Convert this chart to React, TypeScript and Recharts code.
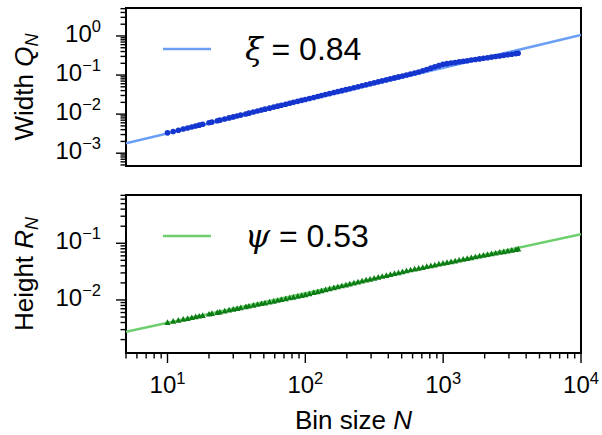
import React from "react";
import { ComposedChart, Line, XAxis, YAxis, ReferenceArea } from "recharts";

// bin sizes N (same for both panels)
const binSizes = [
  10, 11, 12, 13, 14, 15, 16, 17, 18, 20,
  21, 23, 24, 26, 28, 30, 32, 34, 37, 39,
  42, 45, 48, 51, 55, 59, 63, 67, 72, 77,
  82, 88, 94, 100, 107, 115, 123, 131, 140, 150,
  161, 172, 184, 197, 210, 225, 241, 258, 276, 295,
  316, 338, 361, 387, 414, 443, 474, 507, 542, 580,
  621, 664, 711, 760, 814, 870, 931, 997, 1066, 1141,
  1221, 1306, 1398, 1495, 1600, 1712, 1832, 1960, 2097, 2244,
  2401, 2569, 2749, 2941, 3147, 3367, 3500,
];

const widthQ = [
  3.32e-3, 3.6e-3, 3.88e-3, 4.15e-3, 4.42e-3, 4.69e-3, 4.96e-3, 5.22e-3, 5.48e-3, 6.0e-3,
  6.25e-3, 6.76e-3, 7.01e-3, 7.51e-3, 7.99e-3, 8.48e-3, 8.96e-3, 9.43e-3, 1.01e-2, 1.06e-2,
  1.13e-2, 1.2e-2, 1.27e-2, 1.34e-2, 1.42e-2, 1.51e-2, 1.6e-2, 1.68e-2, 1.79e-2, 1.9e-2,
  2.0e-2, 2.12e-2, 2.25e-2, 2.37e-2, 2.51e-2, 2.67e-2, 2.83e-2, 2.99e-2, 3.16e-2, 3.35e-2,
  3.56e-2, 3.77e-2, 3.99e-2, 4.23e-2, 4.47e-2, 4.74e-2, 5.02e-2, 5.33e-2, 5.64e-2, 5.98e-2,
  6.34e-2, 6.71e-2, 7.1e-2, 7.54e-2, 7.98e-2, 8.45e-2, 8.96e-2, 9.49e-2, 0.1, 0.106,
  0.113, 0.12, 0.129, 0.139, 0.15, 0.162, 0.174, 0.188, 0.196, 0.203,
  0.21, 0.218, 0.225, 0.233, 0.242, 0.251, 0.259, 0.268, 0.278, 0.288,
  0.298, 0.308, 0.319, 0.33, 0.342, 0.354, 0.361,
];

const heightR = [
  3.98e-3, 4.17e-3, 4.35e-3, 4.53e-3, 4.69e-3, 4.85e-3, 5.01e-3, 5.15e-3, 5.3e-3, 5.58e-3,
  5.71e-3, 5.98e-3, 6.1e-3, 6.34e-3, 6.58e-3, 6.81e-3, 7.02e-3, 7.23e-3, 7.53e-3, 7.73e-3,
  8.02e-3, 8.3e-3, 8.55e-3, 8.81e-3, 9.14e-3, 9.46e-3, 9.77e-3, 1.01e-2, 1.04e-2, 1.08e-2,
  1.11e-2, 1.15e-2, 1.19e-2, 1.23e-2, 1.28e-2, 1.34e-2, 1.39e-2, 1.44e-2, 1.5e-2, 1.56e-2,
  1.63e-2, 1.69e-2, 1.76e-2, 1.83e-2, 1.9e-2, 1.98e-2, 2.06e-2, 2.14e-2, 2.23e-2, 2.31e-2,
  2.4e-2, 2.49e-2, 2.59e-2, 2.69e-2, 2.79e-2, 2.9e-2, 3.01e-2, 3.13e-2, 3.25e-2, 3.37e-2,
  3.49e-2, 3.61e-2, 3.72e-2, 3.85e-2, 3.98e-2, 4.11e-2, 4.26e-2, 4.4e-2, 4.54e-2, 4.69e-2,
  4.85e-2, 5.01e-2, 5.18e-2, 5.35e-2, 5.52e-2, 5.71e-2, 5.9e-2, 6.08e-2, 6.28e-2, 6.46e-2,
  6.65e-2, 6.87e-2, 7.06e-2, 7.28e-2, 7.5e-2, 7.73e-2, 7.87e-2,
];

// power-law fits, drawn across the whole x range
const fitN = [5, 10000];
const fitWidth = [1.79e-3, 1.06];
const fitHeight = [2.76e-3, 0.144];

const xDomain = [5, 10000];
const widthDomain = [4.7e-4, 5.2];
const heightDomain = [1.16e-3, 0.71];

const FONT = "'Liberation Sans', Arial, Helvetica, sans-serif";
const SERIF = "'DejaVu Serif', 'Liberation Serif', serif";

const widthData = binSizes.map((n, i) => ({ n, q: widthQ[i] }));
const heightData = binSizes.map((n, i) => ({ n, q: heightR[i] }));
const widthFitData = fitN.map((n, i) => ({ n, q: fitWidth[i] }));
const heightFitData = fitN.map((n, i) => ({ n, q: fitHeight[i] }));

// decade ticks plus 2..9 minor ticks inside [lo, hi]
function logTicks(lo: number, hi: number) {
  const out: number[] = [];
  for (let k = Math.floor(Math.log10(lo)); k <= Math.ceil(Math.log10(hi)); k++) {
    for (let m = 1; m < 10; m++) {
      const v = Number((m * Math.pow(10, k)).toPrecision(6));
      if (v >= lo * 0.999 && v <= hi * 1.001) out.push(v);
    }
  }
  return out;
}

const isMajor = (v: number) => {
  const l = Math.log10(v);
  return Math.abs(l - Math.round(l)) < 1e-6;
};
const expText = (v: number) => {
  const e = Math.round(Math.log10(v));
  return e < 0 ? "\u2212" + -e : String(e);
};

const XTick = (props: any) => {
  const { x, y, payload } = props;
  const major = isMajor(payload.value);
  return (
    <g>
      <line x1={x} x2={x} y1={y} y2={y + (major ? 10 : 5.5)} stroke="#000" strokeWidth={1.4} />
      {major && (
        <text x={x} y={y + 40} textAnchor="middle" fontFamily={FONT} fontSize={24} fill="#000">
          10
          <tspan dy={-9} fontSize={16.5}>
            {expText(payload.value)}
          </tspan>
        </text>
      )}
    </g>
  );
};

const YTick = (props: any) => {
  const { x, y, payload } = props;
  const major = isMajor(payload.value);
  return (
    <g>
      <line x1={x - (major ? 10 : 5.5)} x2={x} y1={y} y2={y} stroke="#000" strokeWidth={1.4} />
      {major && (
        <text x={x - 25} y={y + 6} textAnchor="end" fontFamily={FONT} fontSize={24} fill="#000">
          10
          <tspan dy={-10} fontSize={16.5}>
            {expText(payload.value)}
          </tspan>
        </text>
      )}
    </g>
  );
};

const circleDot = (p: any) => <circle key={p.index} cx={p.cx} cy={p.cy} r={2.8} fill="#1535cf" />;
const triangleDot = (p: any) => (
  <polygon
    key={p.index}
    points={`${p.cx},${p.cy - 3.4} ${p.cx - 3.1},${p.cy + 2.3} ${p.cx + 3.1},${p.cy + 2.3}`}
    fill="#0c7c14"
  />
);

function legendLabel(symbol: string, value: string, color: string) {
  return (props: any) => {
    const vb = props.viewBox || { x: 126, y: 8 };
    return (
      <g>
        <line x1={vb.x + 37} x2={vb.x + 85} y1={vb.y + 41} y2={vb.y + 41} stroke={color} strokeWidth={2.5} />
        <text x={vb.x + 119} y={vb.y + 52} fontFamily={FONT} fontSize={32} fill="#000">
          <tspan fontFamily={SERIF} fontStyle="italic">
            {symbol}
          </tspan>
          {" = " + value}
        </text>
      </g>
    );
  };
}

function Panel({ top, height, margin, domain, points, fit, fitColor, dot, title, titleY, legend, showX }: any) {
  return (
    <div style={{ position: "absolute", left: 0, top }}>
      <ComposedChart width={602} height={height} margin={margin}>
        <XAxis
          dataKey="n"
          type="number"
          scale="log"
          domain={xDomain}
          allowDataOverflow
          ticks={logTicks(xDomain[0], xDomain[1])}
          interval={0}
          height={1}
          tickSize={0}
          tickMargin={0}
          axisLine={false}
          tickLine={false}
          hide={!showX}
          tick={(p: any) => <XTick {...p} />}
          label={
            showX
              ? () => (
                  <text x={353.5} y={margin.top + 158 + 76} textAnchor="middle" fontFamily={FONT} fontSize={26} fill="#000">
                    Bin size <tspan fontStyle="italic">N</tspan>
                  </text>
                )
              : undefined
          }
        />
        <YAxis
          type="number"
          scale="log"
          domain={domain}
          allowDataOverflow
          ticks={logTicks(domain[0], domain[1])}
          interval={0}
          width={1}
          tickSize={0}
          tickMargin={0}
          axisLine={false}
          tickLine={false}
          tick={(p: any) => <YTick {...p} />}
          label={() => (
            <text
              transform={`translate(33, ${titleY}) rotate(-90)`}
              textAnchor="middle"
              fontFamily={FONT}
              fontSize={26}
              fill="#000"
            >
              {title[0]}
              <tspan fontStyle="italic">{title[1]}</tspan>
              <tspan fontStyle="italic" fontSize={18} dy={5}>
                N
              </tspan>
            </text>
          )}
        />
        <Line data={fit} dataKey="q" stroke={fitColor} strokeWidth={2.5} dot={false} activeDot={false} isAnimationActive={false} />
        <Line data={points} dataKey="q" stroke="none" dot={dot} activeDot={false} isAnimationActive={false} />
        <ReferenceArea
          x1={xDomain[0]}
          x2={xDomain[1]}
          y1={domain[0]}
          y2={domain[1]}
          fill="none"
          fillOpacity={0}
          stroke="#000"
          strokeWidth={2}
          ifOverflow="visible"
          label={legend}
        />
      </ComposedChart>
    </div>
  );
}

export default function App() {
  return (
    <div style={{ position: "absolute", left: 0, top: 0, width: 602, height: 435, background: "#fff" }}>
      <Panel
        top={0}
        height={180}
        margin={{ top: 8, right: 21, bottom: 14, left: 125 }}
        domain={widthDomain}
        points={widthData}
        fit={widthFitData}
        fitColor="#6b9ff7"
        dot={circleDot}
        title={["Width ", "Q"]}
        titleY={87}
        legend={legendLabel("\u03be", "0.84", "#6b9ff7")}
        showX={false}
      />
      <Panel
        top={180}
        height={255}
        margin={{ top: 15, right: 21, bottom: 81, left: 125 }}
        domain={heightDomain}
        points={heightData}
        fit={heightFitData}
        fitColor="#6cce6c"
        dot={triangleDot}
        title={["Height ", "R"]}
        titleY={94}
        legend={legendLabel("\u03c8", "0.53", "#6cce6c")}
        showX={true}
      />
    </div>
  );
}
